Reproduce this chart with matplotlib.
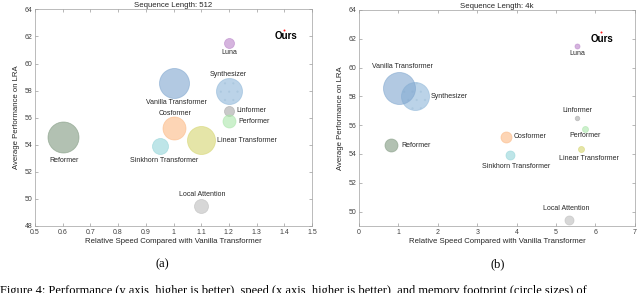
import matplotlib
matplotlib.use("Agg")
import matplotlib.pyplot as plt

plt.rcParams['font.family'] = ['Liberation Sans', 'DejaVu Sans']
plt.rcParams['hatch.linewidth'] = 0.3

models = ["Ours", "Luna", "Synthesizer", "Vanilla Transformer", "Linformer", "Performer",
          "Cosformer", "Linear Transformer", "Sinkhorn Transformer", "Reformer", "Local Attention"]
colors = ["#ff2020", "#b983c9", "#8fb7d9", "#7fa6cf", "#a8a8a8", "#aae6aa",
          "#fcb984", "#d5d56e", "#94d5d9", "#809980", "#bdbdbd"]

# Sequence length 512
speed_512 = [1.40, 1.20, 1.20, 1.00, 1.20, 1.20, 1.00, 1.10, 0.95, 0.60, 1.10]
perf_512 = [62.45, 61.5, 57.97, 58.58, 56.5, 55.73, 55.24, 54.35, 53.93, 54.59, 49.45]
mem_512 = [2, 10, 26, 30, 10, 13, 23, 28, 16, 31, 14]   # circle diameters

# Sequence length 4k
speed_4k = [6.13, 5.53, 1.42, 1.02, 5.53, 5.73, 3.72, 5.63, 3.83, 0.81, 5.32]
perf_4k = [62.45, 61.5, 58.0, 58.6, 56.5, 55.7, 55.2, 54.34, 53.9, 54.6, 49.45]
mem_4k = [2, 5, 28, 32, 4.5, 6, 11, 6, 9, 13, 9]

xticks_a = [0.5, 0.6, 0.7, 0.8, 0.9, 1, 1.1, 1.2, 1.3, 1.4, 1.5]
xtick_labels_a = ["0.5", "0.6", "0.7", "0.8", "0.9", "1", "1.1", "1.2", "1.3", "1.4", "1.5"]
yticks_a = [48, 50, 52, 54, 56, 58, 60, 62, 64]
xticks_b = [0, 1, 2, 3, 4, 5, 6, 7]
yticks_b = [50, 52, 54, 56, 58, 60, 62, 64]

# label placements (text position, alignment)
labels_512 = {
    "Ours": (1.406, 62.05, "center", "center"),
    "Luna": (1.20, 60.8, "center", "center"),
    "Synthesizer": (1.196, 59.2, "center", "center"),
    "Vanilla Transformer": (1.009, 57.1, "center", "center"),
    "Linformer": (1.228, 56.5, "left", "center"),
    "Performer": (1.236, 55.7, "left", "center"),
    "Cosformer": (1.004, 56.3, "center", "center"),
    "Linear Transformer": (1.158, 54.3, "left", "center"),
    "Sinkhorn Transformer": (0.967, 52.87, "center", "center"),
    "Reformer": (0.606, 52.82, "center", "center"),
    "Local Attention": (1.104, 50.3, "center", "center"),
}
labels_4k = {
    "Ours": (6.16, 62.0, "center", "center"),
    "Luna": (5.53, 61.0, "center", "center"),
    "Synthesizer": (1.83, 58.0, "left", "center"),
    "Vanilla Transformer": (1.10, 60.1, "center", "center"),
    "Linformer": (5.53, 57.0, "center", "center"),
    "Performer": (5.73, 55.3, "center", "center"),
    "Cosformer": (3.93, 55.2, "left", "center"),
    "Linear Transformer": (5.83, 53.7, "center", "center"),
    "Sinkhorn Transformer": (3.98, 53.1, "center", "center"),
    "Reformer": (1.07, 54.6, "left", "center"),
    "Local Attention": (5.25, 50.2, "center", "center"),
}

fig = plt.figure(figsize=(6.4, 2.93), dpi=100)
ax1 = fig.add_axes([0.0547, 0.2287, 0.4328, 0.7393])
ax2 = fig.add_axes([0.561, 0.2287, 0.431, 0.7373])

def draw(ax, xs, ys, ds, labels, title):
    for name, x, y, d, c in zip(models, xs, ys, ds, colors):
        s = (d * 0.72) ** 2
        if name == "Ours":
            ax.scatter([x], [y], s=s, color=c, zorder=3, linewidths=0)
            continue
        if name == "Synthesizer":
            ax.scatter([x], [y], s=s, facecolor=c, edgecolor=c, alpha=0.6,
                       linewidths=0.6, zorder=2)
            ax.scatter([x], [y], s=s, facecolor="none", edgecolor="#9fbfd8",
                       alpha=0.5, linewidths=0, hatch="..", zorder=2)
        else:
            ax.scatter([x], [y], s=s, facecolor=c, edgecolor=c, alpha=0.6,
                       linewidths=0.6, zorder=2)
    for name in models:
        tx, ty, ha, va = labels[name]
        if name == "Ours":
            ax.text(tx, ty, name, ha=ha, va=va, fontsize=7, fontweight="bold", color="black")
        else:
            ax.text(tx, ty, name, ha=ha, va=va, fontsize=5.0, color="#262626")
    ax.set_title(title, fontsize=5.6, pad=1.5, color="#262626")
    ax.set_xlabel("Relative Speed Compared with Vanilla Transformer", fontsize=5.6,
                  labelpad=1.5, color="#262626")
    ax.set_ylabel("Average Performance on LRA", fontsize=5.6, labelpad=3, color="#262626")
    for sp in ax.spines.values():
        sp.set_color("#a0a0a0")
        sp.set_linewidth(0.5)
    ax.tick_params(direction="in", length=2, width=0.4, color="#808080",
                   labelsize=5.0, labelcolor="#404040", pad=2,
                   top=True, right=True)

draw(ax1, speed_512, perf_512, mem_512, labels_512, "Sequence Length: 512")
ax1.set_xlim(0.5, 1.5)
ax1.set_ylim(48, 64)
ax1.set_xticks(xticks_a)
ax1.set_xticklabels(xtick_labels_a)
ax1.set_yticks(yticks_a)

draw(ax2, speed_4k, perf_4k, mem_4k, labels_4k, "Sequence Length: 4k")
ax2.set_xlim(0, 7)
ax2.set_ylim(49, 64)
ax2.set_xticks(xticks_b)
ax2.set_yticks(yticks_b)

fig.text(0.253, 0.098, "(a)", fontsize=9, family="Liberation Serif", ha="center", va="center")
fig.text(0.778, 0.098, "(b)", fontsize=9, family="Liberation Serif", ha="center", va="center")
fig.text(0.0, -0.012,
         "Figure 4: Performance (y axis, higher is better), speed (x axis, higher is better), and memory footprint (circle sizes) of",
         fontsize=9, family="Liberation Serif", ha="left", va="bottom")

fig.savefig("out.png", dpi=100)
